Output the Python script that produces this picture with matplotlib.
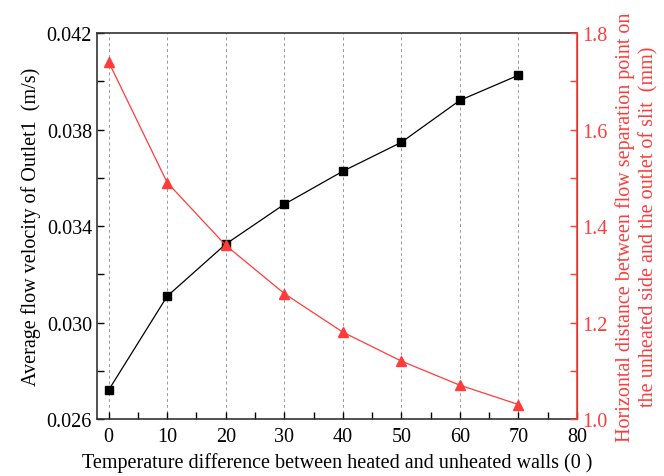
import matplotlib
matplotlib.use("Agg")
import matplotlib.pyplot as plt
from matplotlib.ticker import MultipleLocator, FormatStrFormatter, FixedLocator

temp_diff = [0, 10, 20, 30, 40, 50, 60, 70]
velocity = [0.0272, 0.03109, 0.03325, 0.0349, 0.03627, 0.03747, 0.03921, 0.04025]
distance = [1.74, 1.49, 1.36, 1.26, 1.18, 1.12, 1.07, 1.03]
left_ticks = [0.026, 0.030, 0.034, 0.038, 0.042]
left_minor = [0.028, 0.032, 0.036, 0.040]
right_ticks = [1.0, 1.2, 1.4, 1.6, 1.8]
right_minor = [1.1, 1.3, 1.5, 1.7]

red = '#ff3b3b'
plt.rcParams['font.family'] = ['Liberation Serif', 'DejaVu Serif']
fs = 14.5

fig = plt.figure(figsize=(6.64, 4.77), dpi=100)
ax = fig.add_axes([0.146, 0.1195, 0.723, 0.8092])
ax.plot(temp_diff, velocity, color='black', lw=0.9, marker='s', ms=6, zorder=3)
ax.set_xlim(-2, 80)
ax.set_ylim(0.026, 0.042)
ax.xaxis.set_major_locator(MultipleLocator(10))
ax.xaxis.set_minor_locator(MultipleLocator(5))
ax.yaxis.set_major_locator(FixedLocator(left_ticks))
ax.yaxis.set_minor_locator(FixedLocator(left_minor))
ax.yaxis.set_major_formatter(FormatStrFormatter('%.3f'))
ax.tick_params(which='both', direction='in', top=False, right=False, length=5, width=1)
ax.tick_params(which='major', labelsize=fs)
ax.tick_params(axis='x', pad=6)
ax.grid(axis='x', which='major', linestyle=(0, (3, 3)), color='#999999', lw=0.7)
ax.set_axisbelow(True)
for s in ['left', 'bottom', 'top']:
    ax.spines[s].set_color('#333333')
    ax.spines[s].set_linewidth(1.2)
ax.set_xlabel('Temperature difference between heated and unheated walls (0 )', fontsize=fs, labelpad=4)
ax.set_ylabel('Average flow velocity of Outlet1  (m/s)', fontsize=fs)

ax2 = ax.twinx()
ax2.plot(temp_diff, distance, color=red, lw=0.9, marker='^', ms=7, zorder=3)
ax2.set_ylim(1.0, 1.8)
ax2.yaxis.set_major_locator(FixedLocator(right_ticks))
ax2.yaxis.set_minor_locator(FixedLocator(right_minor))
ax2.yaxis.set_major_formatter(FormatStrFormatter('%.1f'))
ax2.tick_params(which='both', direction='in', colors=red, labelsize=fs, length=5, width=1)
ax2.spines['right'].set_color(red)
ax2.spines['right'].set_linewidth(1.2)
for s in ['left', 'bottom', 'top']:
    ax2.spines[s].set_visible(False)
ax2.set_ylabel('Horizontal distance between flow separation point on\nthe unheated side and the outlet of slit  (mm)',
               color=red, fontsize=fs, linespacing=1.25, labelpad=6)

fig.savefig('out.png', dpi=100)
